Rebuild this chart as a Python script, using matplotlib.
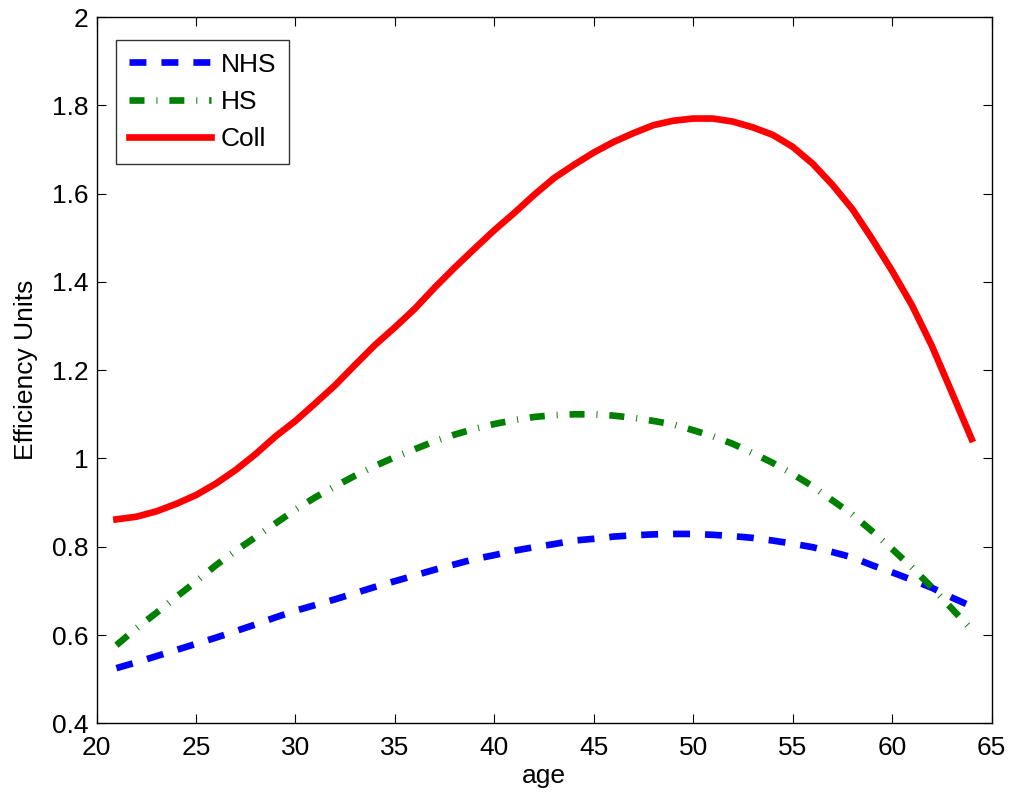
import matplotlib
matplotlib.use("Agg")
import matplotlib.pyplot as plt
import numpy as np
from matplotlib.ticker import FuncFormatter, MultipleLocator

plt.rcParams["font.family"] = ["Liberation Sans", "DejaVu Sans"]
plt.rcParams["lines.scale_dashes"] = False

ages = np.arange(21, 65)

nhs = [0.525, 0.538, 0.552, 0.566, 0.580, 0.594, 0.609, 0.624, 0.640, 0.655,
       0.668, 0.681, 0.695, 0.709, 0.722, 0.735, 0.748, 0.760, 0.772, 0.781,
       0.791, 0.799, 0.806, 0.814, 0.818, 0.823, 0.826, 0.828, 0.829, 0.829,
       0.827, 0.824, 0.820, 0.814, 0.807, 0.799, 0.788, 0.776, 0.758, 0.742,
       0.725, 0.707, 0.685, 0.665]

hs = [0.577, 0.615, 0.650, 0.686, 0.721, 0.758, 0.791, 0.822, 0.853, 0.884,
      0.912, 0.937, 0.961, 0.983, 1.003, 1.021, 1.039, 1.054, 1.067, 1.078,
      1.087, 1.094, 1.098, 1.100, 1.100, 1.097, 1.092, 1.085, 1.077, 1.064,
      1.050, 1.033, 1.012, 0.990, 0.965, 0.937, 0.905, 0.873, 0.835, 0.795,
      0.753, 0.708, 0.660, 0.612]

coll = [0.862, 0.868, 0.880, 0.897, 0.917, 0.943, 0.974, 1.010, 1.050, 1.085,
        1.125, 1.166, 1.212, 1.257, 1.297, 1.339, 1.387, 1.432, 1.475, 1.517,
        1.556, 1.597, 1.635, 1.665, 1.693, 1.717, 1.737, 1.755, 1.765, 1.770,
        1.770, 1.763, 1.750, 1.733, 1.706, 1.668, 1.620, 1.565, 1.497, 1.425,
        1.347, 1.255, 1.150, 1.044]

labels = ["NHS", "HS", "Coll"]

fig = plt.figure(figsize=(10.13, 8.02), dpi=100)
ax = fig.add_axes([0.0953, 0.0981, 0.8835, 0.8807])

lw = 4.8
ax.plot(ages, nhs, color="#0000ff", lw=lw, dashes=(12.2, 10.8),
        dash_capstyle="butt", label=labels[0])
ax.plot(ages, hs, color="#008000", lw=lw, dashes=(10.8, 8.6, 0.7, 8.6),
        dash_capstyle="butt", label=labels[1])
ax.plot(ages, coll, color="#ff0000", lw=lw, label=labels[2])

ax.set_xlim(20, 65)
ax.set_ylim(0.4, 2.0)
ax.xaxis.set_major_locator(MultipleLocator(5))
ax.yaxis.set_major_locator(MultipleLocator(0.2))
ax.yaxis.set_major_formatter(FuncFormatter(lambda v, p: f"{v:g}"))
ax.tick_params(direction="in", length=6.5, width=0.8, labelsize=19,
               top=True, right=True, pad=6)
ax.tick_params(axis="x", pad=9)
for s in ax.spines.values():
    s.set_linewidth(1.0)

ax.set_xlabel("age", fontsize=19, labelpad=3)
ax.set_ylabel("Efficiency Units", fontsize=19, labelpad=10)

leg = ax.legend(loc="upper left", bbox_to_anchor=(0.0218, 0.9674),
                borderaxespad=0, fontsize=19, frameon=True, fancybox=False,
                edgecolor="black", handlelength=3.1, handletextpad=0.4,
                labelspacing=0.5, borderpad=0.48)
leg.get_frame().set_linewidth(1.0)

fig.savefig("out.png", dpi=100)
